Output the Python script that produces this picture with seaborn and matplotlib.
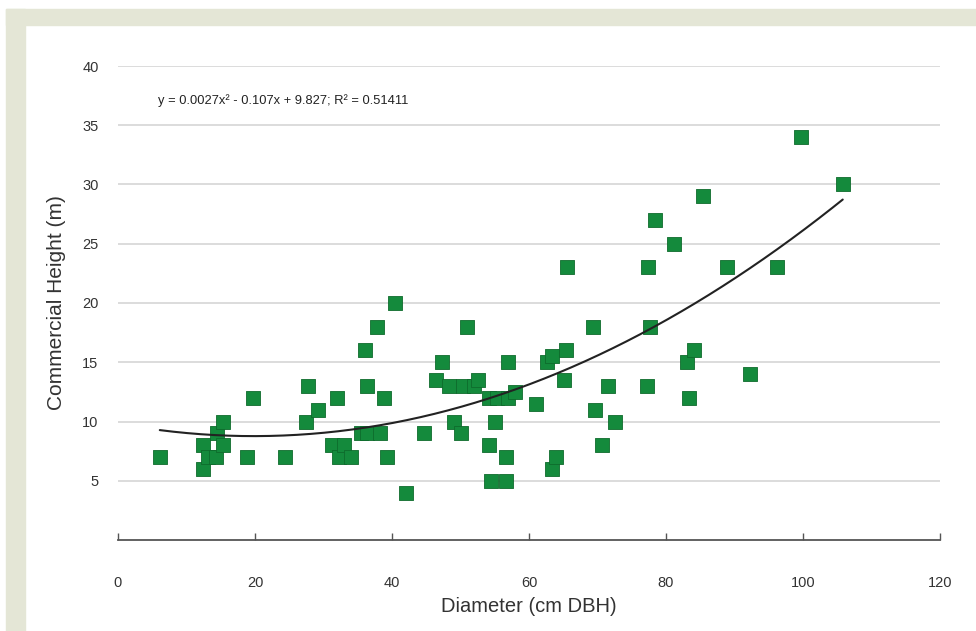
import numpy as np
import pandas as pd
import matplotlib
matplotlib.use("Agg")
import matplotlib.pyplot as plt
from matplotlib.patches import Rectangle
import seaborn as sns

diameter = [6.1, 12.4, 12.4, 13.2, 14.3, 14.4, 15.3, 15.4, 18.9, 19.7,
            24.4, 27.5, 27.8, 29.2, 31.2, 32.0, 32.3, 33.0, 34.0, 35.5,
            36.1, 36.4, 36.4, 37.8, 38.2, 38.8, 39.3, 40.4, 42.0, 44.7,
            46.4, 47.3, 48.3, 49.1, 50.1, 50.4, 50.9, 52.0, 52.6, 54.1,
            54.1, 54.5, 55.3, 55.1, 56.6, 56.6, 56.9, 57.0, 58.0, 61.0,
            62.6, 63.3, 63.3, 63.9, 65.1, 65.4, 65.6, 69.4, 69.6, 70.6,
            71.5, 72.5, 77.2, 77.4, 77.7, 78.4, 81.2, 83.1, 83.3, 84.1,
            85.4, 88.9, 92.3, 96.2, 99.7, 105.8]
height = [7, 8, 6, 7, 7, 9, 8, 10, 7, 12,
          7, 10, 13, 11, 8, 12, 7, 8, 7, 9,
          16, 13, 9, 18, 9, 12, 7, 20, 4, 9,
          13.5, 15, 13, 10, 9, 13, 18, 13, 13.5, 12,
          8, 5, 12, 10, 7, 5, 12, 15, 12.5, 11.5,
          15, 15.5, 6, 7, 13.5, 16, 23, 18, 11, 8,
          13, 10, 13, 23, 18, 27, 25, 15, 12, 16,
          29, 23, 14, 23, 34, 30]

trend_coef = [0.0027, -0.107, 9.827]
equation_label = "y = 0.0027x² - 0.107x + 9.827; R² = 0.51411"
x_ticks = [0, 20, 40, 60, 80, 100, 120]
y_ticks = [5, 10, 15, 20, 25, 30, 35, 40]

df = pd.DataFrame({"Diameter": diameter, "Height": height})

sns.set_theme(style="white")
plt.rcParams['font.family'] = ['Liberation Sans', 'DejaVu Sans']

fig = plt.figure(figsize=(9.76, 6.31), dpi=100)
W, H = 976, 631
beige = "#e4e6d6"
# frame band (top and left)
fig.patches.append(Rectangle((6 / W, 1 - 25 / H), 1 - 6 / W, 16 / H,
                             transform=fig.transFigure, color=beige, zorder=0))
fig.patches.append(Rectangle((6 / W, 0), 19 / W, 1 - 9 / H,
                             transform=fig.transFigure, color=beige, zorder=0))

ax = fig.add_axes([118 / W, 1 - 540 / H, 822 / W, 474 / H])
ax.set_facecolor("none")

for yv in y_ticks:
    ax.axhline(yv, color="#dcdcdc", lw=1.4, zorder=0)

sns.scatterplot(data=df, x="Diameter", y="Height", marker="s", s=105,
                color="#148a3c", edgecolor="#0e6b2c", linewidth=0.6,
                ax=ax, zorder=3)

xs = np.linspace(min(diameter), max(diameter), 200)
ys = np.polyval(trend_coef, xs)
sns.lineplot(x=xs, y=ys, color="#222222", lw=1.5, ax=ax, zorder=4)

ax.text(5.8, 37.1, equation_label, fontsize=9.3, color="#222222", va="center", ha="left")

ax.set_xlim(0, 120)
ax.set_ylim(0, 40)
ax.set_xticks(x_ticks)
ax.set_yticks(y_ticks)
ax.set_xticklabels([str(v) for v in x_ticks])
ax.set_yticklabels([str(v) for v in y_ticks])
for s in ["top", "right", "left"]:
    ax.spines[s].set_visible(False)
ax.spines["bottom"].set_color("#555555")
ax.spines["bottom"].set_linewidth(1.3)
ax.tick_params(axis="x", direction="in", length=5, width=1, color="#555555",
               pad=26, labelsize=10.5, labelcolor="#333333", bottom=True)
ax.tick_params(axis="y", length=0, pad=14, labelsize=10.5, labelcolor="#333333")

ax.set_xlabel("Diameter (cm DBH)", fontsize=14.5, color="#333333", labelpad=5)
ax.set_ylabel("Commercial Height (m)", fontsize=15, color="#333333", labelpad=12)

fig.savefig("out.png", dpi=100)
